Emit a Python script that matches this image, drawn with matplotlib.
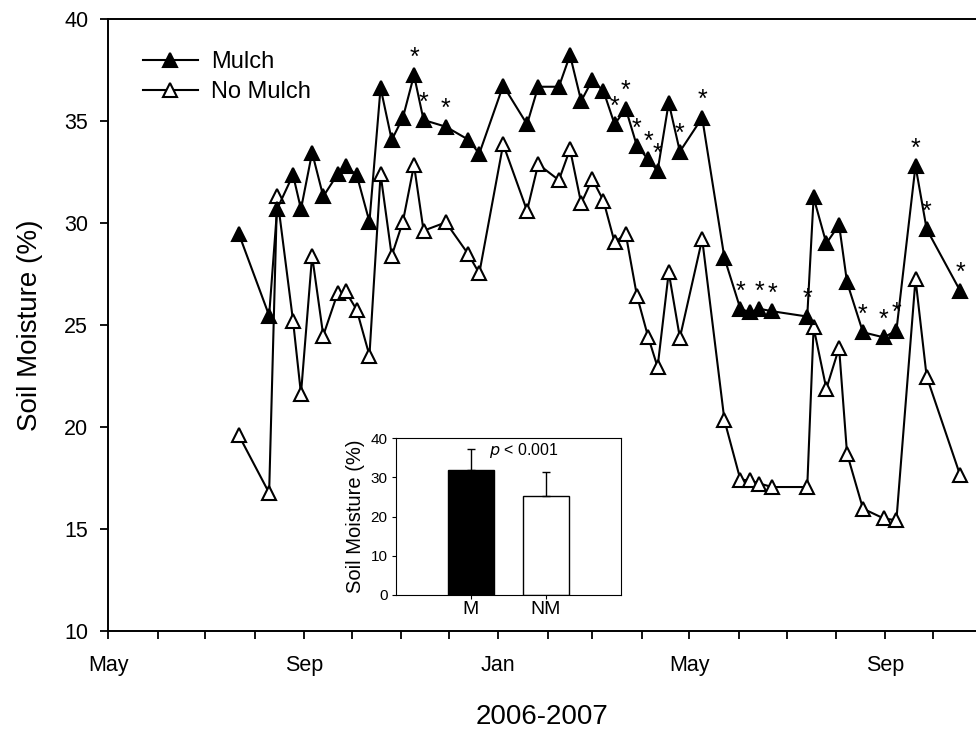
import numpy as np
import matplotlib
matplotlib.use("Agg")
import matplotlib.pyplot as plt
import matplotlib.dates as mdates

plt.rcParams['font.family'] = ['Liberation Sans', 'DejaVu Sans']

# sampling dates, 2006-2007 season
dates = np.array([
    '2006-07-22', '2006-08-10', '2006-08-15', '2006-08-25', '2006-08-30',
    '2006-09-06', '2006-09-13', '2006-09-22', '2006-09-27', '2006-10-04',
    '2006-10-12', '2006-10-19', '2006-10-26', '2006-11-02', '2006-11-09',
    '2006-11-15', '2006-11-29', '2006-12-13', '2006-12-20', '2007-01-04',
    '2007-01-19', '2007-01-26', '2007-02-08', '2007-02-15', '2007-02-22',
    '2007-03-01', '2007-03-08', '2007-03-15', '2007-03-22', '2007-03-29',
    '2007-04-05', '2007-04-11', '2007-04-18', '2007-04-25', '2007-05-09',
    '2007-05-23', '2007-06-02', '2007-06-08', '2007-06-14', '2007-06-22',
    '2007-07-14', '2007-07-18', '2007-07-26', '2007-08-03', '2007-08-08',
    '2007-08-18', '2007-08-31', '2007-09-08', '2007-09-20', '2007-09-27',
    '2007-10-18'], dtype='datetime64[D]')

mulch = [29.47, 25.47, 30.69, 32.37, 30.69, 33.46, 31.31, 32.40, 32.78, 32.37,
         30.07, 36.64, 34.08, 35.17, 37.26, 35.06, 34.73, 34.10, 33.41, 36.75,
         34.85, 36.69, 36.69, 38.24, 35.99, 37.02, 36.48, 34.85, 35.61, 33.79,
         33.14, 32.56, 35.91, 33.51, 35.17, 28.29, 25.80, 25.63, 25.80, 25.68,
         25.42, 31.26, 29.01, 29.92, 27.10, 24.65, 24.40, 24.73, 32.81, 29.71,
         26.69]

no_mulch = [19.59, 16.77, 31.34, 25.22, 21.63, 28.40, 24.49, 26.56, 26.66, 25.75,
            23.51, 32.40, 28.40, 30.07, 32.85, 29.63, 30.04, 28.49, 27.54, 33.87,
            30.61, 32.89, 32.11, 33.63, 30.97, 32.16, 31.10, 29.06, 29.47, 26.45,
            24.44, 22.94, 27.59, 24.38, 29.22, 20.33, 17.42, 17.39, 17.23, 17.06,
            17.06, 24.89, 21.88, 23.89, 18.70, 16.00, 15.52, 15.43, 27.26, 22.48,
            17.65]

# dates where mulch differs significantly from no mulch
sig_dates = np.array([
    '2006-11-09', '2006-11-15', '2006-11-29', '2007-03-15', '2007-03-22',
    '2007-03-29', '2007-04-05', '2007-04-11', '2007-04-25', '2007-05-09',
    '2007-06-02', '2007-06-14', '2007-06-22', '2007-07-14', '2007-08-18',
    '2007-08-31', '2007-09-08', '2007-09-20', '2007-09-27', '2007-10-18'],
    dtype='datetime64[D]')

# season means for the inset
groups = ['M', 'NM']
means = [31.9, 25.3]
sds = [5.3, 6.0]

fig = plt.figure(figsize=(9.76, 7.32), dpi=100)
ax = fig.add_axes([0.111, 0.138, 0.889, 0.8357])

ax.plot(dates, no_mulch, '-^', color='black', lw=1.5, ms=9.5, mew=1.5,
        mfc='white', mec='black', label='No Mulch', zorder=3)
ax.plot(dates, mulch, '-^', color='black', lw=1.5, ms=9.5, mew=1.5,
        mfc='black', mec='black', label='Mulch', zorder=4)

mulch_arr = np.array(mulch)
for d in sig_dates:
    v = mulch_arr[dates == d][0]
    ax.annotate('*', (d, v), xytext=(0, 7.5), textcoords='offset points',
                ha='center', va='baseline', fontsize=18)

ax.set_xlim(np.datetime64('2006-05-01'), np.datetime64('2007-10-28'))
ax.set_ylim(10, 40)
ax.set_yticks(range(10, 41, 5))
ax.xaxis.set_major_locator(mdates.MonthLocator(bymonth=[1, 5, 9]))
ax.xaxis.set_minor_locator(mdates.MonthLocator())
ax.xaxis.set_major_formatter(mdates.DateFormatter('%b'))

ax.tick_params(axis='both', which='both', direction='out', length=5.5,
               width=1.3, labelsize=15.5)
ax.tick_params(axis='y', pad=9)
ax.tick_params(axis='x', pad=12)
for s in ['left', 'bottom', 'top']:
    ax.spines[s].set_linewidth(1.4)
ax.spines['right'].set_visible(False)

ax.set_ylabel('Soil Moisture (%)', fontsize=20, labelpad=15)
ax.set_xlabel('2006-2007', fontsize=20, labelpad=20)

h, l = ax.get_legend_handles_labels()
ax.legend(h[::-1], l[::-1], loc='upper left', bbox_to_anchor=(0.0396, 0.948),
          frameon=False, fontsize=17, handlelength=2.33, handletextpad=0.57,
          labelspacing=0.35, borderaxespad=0, borderpad=0)

# inset: season mean with SD
ins = fig.add_axes([0.4057, 0.1872, 0.2302, 0.2141])
x = np.arange(len(groups))
ins.bar(x, means, width=0.61, color=['black', 'white'], edgecolor='black',
        linewidth=1)
ins.errorbar(x, means, yerr=[[0, 0], sds], fmt='none', ecolor='black',
             elinewidth=1, capsize=3, capthick=1)
ins.set_xlim(-1, 2)
ins.set_ylim(0, 40)
ins.set_yticks(range(0, 41, 10))
ins.set_xticks(x)
ins.set_xticklabels(groups)
ins.tick_params(axis='y', direction='out', length=3, labelsize=11, pad=3)
ins.tick_params(axis='x', direction='out', length=3, labelsize=14, pad=1)
ins.set_ylabel('Soil Moisture (%)', fontsize=14.5, labelpad=4)
ins.text(0.57, 0.925, r'$p$ < 0.001', transform=ins.transAxes, ha='center',
         va='center', fontsize=11.5)

fig.savefig('out.png', dpi=100)
